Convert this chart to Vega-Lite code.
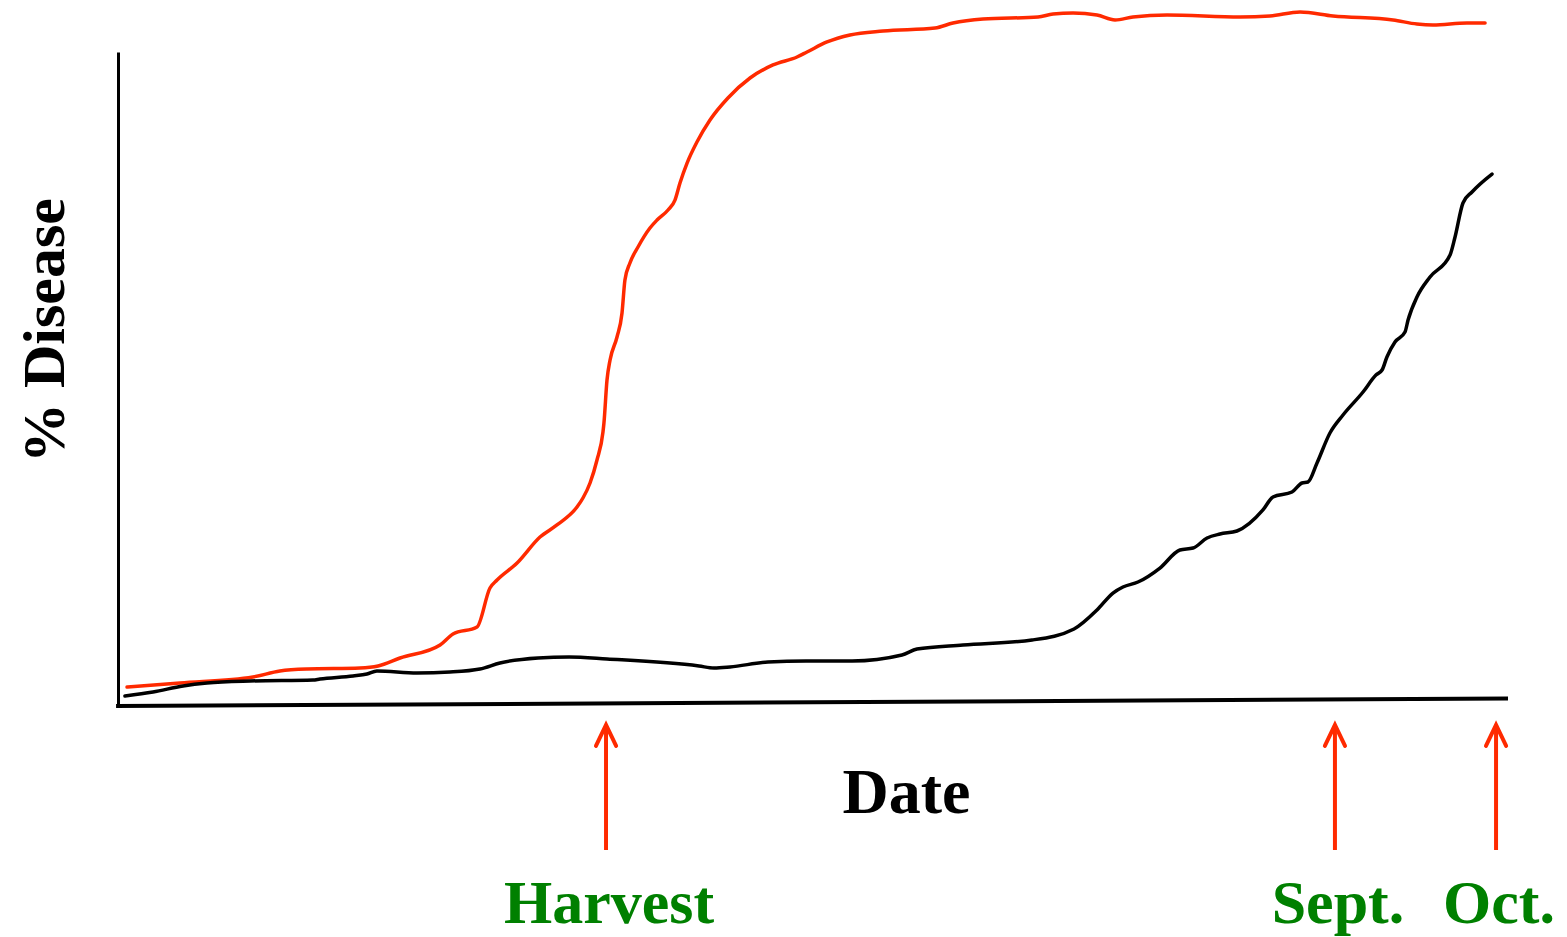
{
  "$schema": "https://vega.github.io/schema/vega-lite/v6.json",
  "width": 1390,
  "height": 655,
  "autosize": {"type": "none"},
  "padding": {"left": 118, "top": 52, "right": 59, "bottom": 230},
  "background": "white",
  "config": {"view": {"stroke": null}},
  "datasets": {
    "curves": [
      {"series": "early", "t": 0.65, "v": 3.05},
      {"series": "early", "t": 4.46, "v": 3.66},
      {"series": "early", "t": 9.71, "v": 4.58},
      {"series": "early", "t": 11.65, "v": 5.50},
      {"series": "early", "t": 13.60, "v": 5.80},
      {"series": "early", "t": 17.41, "v": 5.95},
      {"series": "early", "t": 18.71, "v": 6.26},
      {"series": "early", "t": 20.29, "v": 7.48},
      {"series": "early", "t": 23.17, "v": 9.47},
      {"series": "early", "t": 24.10, "v": 11.15},
      {"series": "early", "t": 25.83, "v": 12.21},
      {"series": "early", "t": 26.76, "v": 18.17},
      {"series": "early", "t": 27.27, "v": 19.39},
      {"series": "early", "t": 28.71, "v": 21.98},
      {"series": "early", "t": 30.36, "v": 25.95},
      {"series": "early", "t": 31.58, "v": 27.79},
      {"series": "early", "t": 33.02, "v": 30.53},
      {"series": "early", "t": 33.45, "v": 31.91},
      {"series": "early", "t": 33.96, "v": 34.20},
      {"series": "early", "t": 34.46, "v": 37.71},
      {"series": "early", "t": 34.89, "v": 41.98},
      {"series": "early", "t": 34.96, "v": 43.36},
      {"series": "early", "t": 35.18, "v": 49.92},
      {"series": "early", "t": 35.40, "v": 52.98},
      {"series": "early", "t": 35.90, "v": 56.49},
      {"series": "early", "t": 36.26, "v": 60.15},
      {"series": "early", "t": 36.47, "v": 65.19},
      {"series": "early", "t": 36.83, "v": 67.79},
      {"series": "early", "t": 37.41, "v": 70.23},
      {"series": "early", "t": 38.27, "v": 73.13},
      {"series": "early", "t": 38.78, "v": 74.35},
      {"series": "early", "t": 39.57, "v": 75.88},
      {"series": "early", "t": 40.07, "v": 77.40},
      {"series": "early", "t": 40.43, "v": 80.00},
      {"series": "early", "t": 40.94, "v": 83.05},
      {"series": "early", "t": 41.65, "v": 86.26},
      {"series": "early", "t": 42.59, "v": 89.62},
      {"series": "early", "t": 43.88, "v": 92.98},
      {"series": "early", "t": 45.47, "v": 96.03},
      {"series": "early", "t": 47.12, "v": 98.02},
      {"series": "early", "t": 48.85, "v": 99.24},
      {"series": "early", "t": 49.57, "v": 100.0},
      {"series": "early", "t": 51.01, "v": 101.53},
      {"series": "early", "t": 52.66, "v": 102.60},
      {"series": "early", "t": 55.04, "v": 103.21},
      {"series": "early", "t": 58.78, "v": 103.66},
      {"series": "early", "t": 60.07, "v": 104.43},
      {"series": "early", "t": 62.23, "v": 105.04},
      {"series": "early", "t": 66.19, "v": 105.34},
      {"series": "early", "t": 67.27, "v": 105.80},
      {"series": "early", "t": 68.71, "v": 105.95},
      {"series": "early", "t": 70.43, "v": 105.65},
      {"series": "early", "t": 71.73, "v": 104.89},
      {"series": "early", "t": 73.02, "v": 105.34},
      {"series": "early", "t": 75.47, "v": 105.65},
      {"series": "early", "t": 80.72, "v": 105.34},
      {"series": "early", "t": 82.88, "v": 105.50},
      {"series": "early", "t": 85.04, "v": 106.11},
      {"series": "early", "t": 87.41, "v": 105.50},
      {"series": "early", "t": 91.73, "v": 104.89},
      {"series": "early", "t": 93.45, "v": 104.27},
      {"series": "early", "t": 94.60, "v": 104.12},
      {"series": "early", "t": 97.05, "v": 104.43},
      {"series": "early", "t": 98.35, "v": 104.43},
      {"series": "late", "t": 0.50, "v": 1.68},
      {"series": "late", "t": 2.52, "v": 2.29},
      {"series": "late", "t": 4.68, "v": 3.21},
      {"series": "late", "t": 6.40, "v": 3.66},
      {"series": "late", "t": 9.50, "v": 3.97},
      {"series": "late", "t": 14.03, "v": 4.12},
      {"series": "late", "t": 14.53, "v": 4.27},
      {"series": "late", "t": 16.91, "v": 4.73},
      {"series": "late", "t": 17.91, "v": 5.04},
      {"series": "late", "t": 18.63, "v": 5.50},
      {"series": "late", "t": 21.51, "v": 5.19},
      {"series": "late", "t": 23.88, "v": 5.34},
      {"series": "late", "t": 26.04, "v": 5.80},
      {"series": "late", "t": 27.48, "v": 6.72},
      {"series": "late", "t": 30.22, "v": 7.48},
      {"series": "late", "t": 32.45, "v": 7.63},
      {"series": "late", "t": 35.18, "v": 7.33},
      {"series": "late", "t": 41.80, "v": 6.26},
      {"series": "late", "t": 42.88, "v": 5.95},
      {"series": "late", "t": 44.03, "v": 6.11},
      {"series": "late", "t": 46.76, "v": 6.87},
      {"series": "late", "t": 49.50, "v": 7.02},
      {"series": "late", "t": 52.81, "v": 7.02},
      {"series": "late", "t": 56.40, "v": 7.94},
      {"series": "late", "t": 57.48, "v": 8.85},
      {"series": "late", "t": 60.79, "v": 9.47},
      {"series": "late", "t": 65.76, "v": 10.23},
      {"series": "late", "t": 68.78, "v": 11.91},
      {"series": "late", "t": 70.43, "v": 14.81},
      {"series": "late", "t": 71.58, "v": 17.40},
      {"series": "late", "t": 72.30, "v": 18.32},
      {"series": "late", "t": 73.38, "v": 19.08},
      {"series": "late", "t": 74.96, "v": 21.22},
      {"series": "late", "t": 76.40, "v": 23.97},
      {"series": "late", "t": 77.34, "v": 24.27},
      {"series": "late", "t": 78.35, "v": 25.80},
      {"series": "late", "t": 79.28, "v": 26.41},
      {"series": "late", "t": 80.50, "v": 26.87},
      {"series": "late", "t": 82.37, "v": 30.08},
      {"series": "late", "t": 83.09, "v": 32.06},
      {"series": "late", "t": 84.46, "v": 32.82},
      {"series": "late", "t": 85.18, "v": 34.20},
      {"series": "late", "t": 85.61, "v": 34.35},
      {"series": "late", "t": 86.26, "v": 37.25},
      {"series": "late", "t": 87.19, "v": 41.83},
      {"series": "late", "t": 88.13, "v": 44.58},
      {"series": "late", "t": 89.57, "v": 48.09},
      {"series": "late", "t": 90.50, "v": 50.69},
      {"series": "late", "t": 90.94, "v": 51.45},
      {"series": "late", "t": 91.29, "v": 53.44},
      {"series": "late", "t": 91.87, "v": 55.73},
      {"series": "late", "t": 92.59, "v": 57.25},
      {"series": "late", "t": 92.81, "v": 59.08},
      {"series": "late", "t": 93.45, "v": 62.60},
      {"series": "late", "t": 94.39, "v": 65.65},
      {"series": "late", "t": 95.83, "v": 69.01},
      {"series": "late", "t": 96.19, "v": 71.76},
      {"series": "late", "t": 96.76, "v": 76.95},
      {"series": "late", "t": 97.41, "v": 78.63},
      {"series": "late", "t": 98.85, "v": 81.37}
    ],
    "events": [
      {"event": "Harvest", "t": 35.11},
      {"event": "Sept.", "t": 87.55},
      {"event": "Oct.", "t": 99.14}
    ],
    "baseline": [
      {"t": -0.14, "v": 0.15, "t2": 100, "v2": 1.3}
    ]
  },
  "encoding": {
    "x": {
      "field": "t",
      "type": "quantitative",
      "scale": {"domain": [0, 100], "nice": false, "zero": false},
      "axis": {
        "domain": false, "ticks": false, "labels": false, "grid": false,
        "title": "Date",
        "titleFont": "Liberation Serif", "titleFontSize": 64, "titleFontWeight": "bold", "titleColor": "black",
        "titleX": 788, "titleY": 105, "titleAlign": "center", "titleBaseline": "alphabetic"
      }
    }
  },
  "layer": [
    {
      "data": {"name": "baseline"},
      "mark": {"type": "rule", "color": "black", "strokeWidth": 4},
      "encoding": {
        "y": {
          "field": "v",
          "type": "quantitative",
          "scale": {"domain": [0, 100], "nice": false, "zero": false},
          "axis": {
            "domain": true, "domainColor": "black", "domainWidth": 3,
            "ticks": false, "labels": false, "grid": false,
            "title": "% Disease",
            "titleFont": "Liberation Serif", "titleFontSize": 60, "titleFontWeight": "bold", "titleColor": "black",
            "titleAngle": 270, "titleX": -55, "titleY": 278, "titleAlign": "center", "titleBaseline": "alphabetic"
          }
        },
        "x2": {"field": "t2"},
        "y2": {"field": "v2"}
      }
    },
    {
      "data": {"name": "curves"},
      "mark": {"type": "line", "strokeWidth": 3.5, "strokeJoin": "round", "strokeCap": "round", "interpolate": "monotone"},
      "encoding": {
        "y": {
          "field": "v",
          "type": "quantitative",
          "scale": {"domain": [0, 100], "nice": false, "zero": false},
          "axis": {
            "domain": true, "domainColor": "black", "domainWidth": 3,
            "ticks": false, "labels": false, "grid": false,
            "title": "% Disease",
            "titleFont": "Liberation Serif", "titleFontSize": 60, "titleFontWeight": "bold", "titleColor": "black",
            "titleAngle": 270, "titleX": -55, "titleY": 278, "titleAlign": "center", "titleBaseline": "alphabetic"
          }
        },
        "color": {
          "field": "series", "type": "nominal",
          "scale": {"domain": ["early", "late"], "range": ["#ff2a00", "#000000"]},
          "legend": null
        }
      }
    },
    {
      "data": {"name": "events"},
      "mark": {"type": "rule", "color": "#ff2a00", "strokeWidth": 4},
      "encoding": {"y": {"datum": -2.75}, "y2": {"datum": -21.83}}
    },
    {
      "data": {"name": "events"},
      "mark": {"type": "point", "shape": "M-0.48,0L0,-1L0.48,0", "size": 1764, "filled": false, "stroke": "#ff2a00", "strokeWidth": 4, "opacity": 1, "strokeCap": "round"},
      "encoding": {"y": {"datum": -5.95}}
    },
    {
      "data": {"name": "events"},
      "mark": {"type": "text", "font": "Liberation Serif", "fontSize": 62, "fontWeight": "bold", "color": "#008000", "align": "center", "baseline": "alphabetic", "dx": 3},
      "encoding": {"y": {"datum": -32.98}, "text": {"field": "event"}}
    }
  ]
}
